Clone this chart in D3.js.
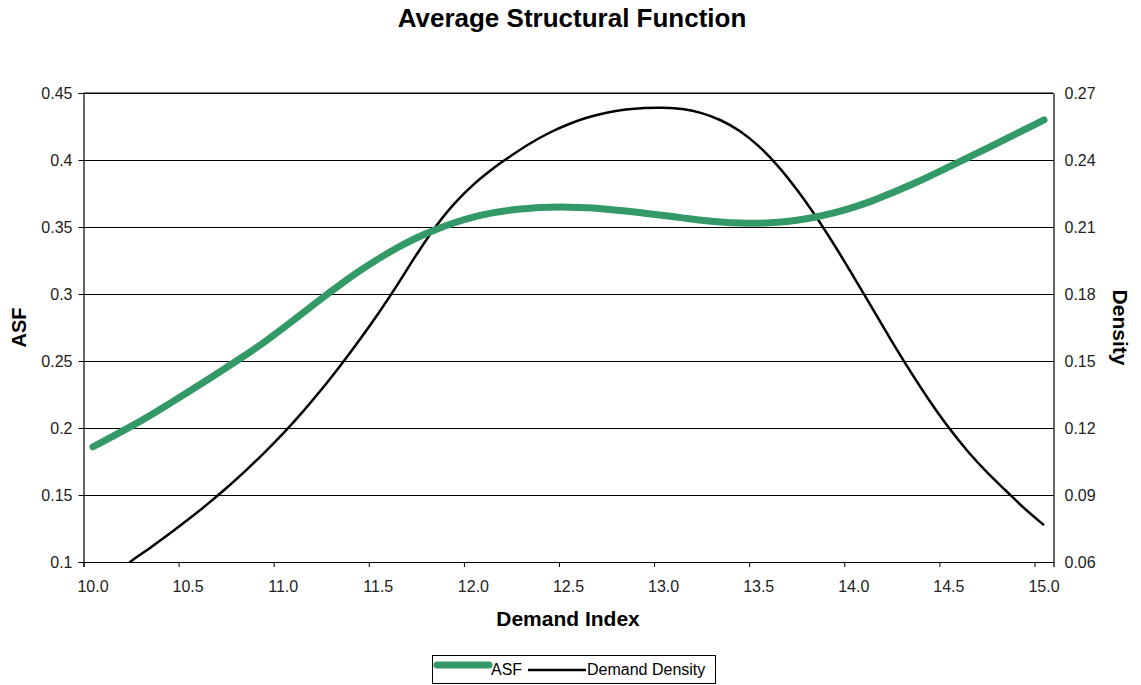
<!DOCTYPE html>
<html><head><meta charset="utf-8">
<script src="https://cdn.jsdelivr.net/npm/d3@7"></script>
<style>body{margin:0;background:#fff}svg{display:block;font-family:"Liberation Sans",Arial,sans-serif}</style>
</head><body>
<svg id="c" width="1141" height="685"></svg>
<script>
const demandIndex = d3.range(51).map(i => +(10 + i * 0.1).toFixed(1));
const asfValues = [
  0.1860, 0.1935, 0.2012, 0.2094, 0.2180, 0.2268, 0.2358, 0.2450, 0.2543, 0.2640,
  0.2746, 0.2855, 0.2965, 0.3070, 0.3170, 0.3262, 0.3345, 0.3418, 0.3480, 0.3532,
  0.3574, 0.3605, 0.3627, 0.3640, 0.3647, 0.3648, 0.3643, 0.3633, 0.3619, 0.3603,
  0.3586, 0.3568, 0.3551, 0.3538, 0.3530, 0.3528, 0.3535, 0.3551, 0.3575, 0.3607,
  0.3648, 0.3697, 0.3754, 0.3815, 0.3880, 0.3948, 0.4017, 0.4087, 0.4157, 0.4228, 0.4299
];
const densityValues = [
  0.0470, 0.0525, 0.0603, 0.0663, 0.0725, 0.0790, 0.0858, 0.0930, 0.1007, 0.1089,
  0.1176, 0.1270, 0.1371, 0.1479, 0.1593, 0.1713, 0.1841, 0.1975, 0.2100, 0.2205,
  0.2290, 0.2360, 0.2420, 0.2475, 0.2522, 0.2560, 0.2590, 0.2612, 0.2626, 0.2633,
  0.2634, 0.2628, 0.2610, 0.2578, 0.2530, 0.2462, 0.2374, 0.2268, 0.2148, 0.2016,
  0.1876, 0.1732, 0.1588, 0.1450, 0.1320, 0.1201, 0.1095, 0.1002, 0.0919, 0.0838, 0.0765
];
const xTickLabels = ["10.0","10.5","11.0","11.5","12.0","12.5","13.0","13.5","14.0","14.5","15.0"];
const leftTicks = [0.1,0.15,0.2,0.25,0.3,0.35,0.4,0.45];
const rightTicks = [0.06,0.09,0.12,0.15,0.18,0.21,0.24,0.27];

const svg = d3.select("#c");
const L = 83.5, R = 1053.5, T = 93, B = 562;
const x = d3.scaleLinear().domain([9.95, 15.05]).range([L, R]);
const yL = d3.scaleLinear().domain([0.1, 0.45]).range([B, T]);
const yR = d3.scaleLinear().domain([0.06, 0.27]).range([B, T]);

svg.append("text").attr("x", 572).attr("y", 27).attr("text-anchor", "middle")
  .attr("font-size", 26).attr("font-weight", "bold").text("Average Structural Function");

// gridlines
svg.append("g").selectAll("line").data(leftTicks).join("line")
  .attr("x1", L).attr("x2", R).attr("y1", d => Math.round(yL(d)) + 0.5).attr("y2", d => Math.round(yL(d)) + 0.5)
  .attr("stroke", "#000").attr("stroke-width", 1);

const gl = svg.append("g").attr("transform", `translate(${L},0)`)
  .call(d3.axisLeft(yL).tickValues(leftTicks).tickFormat(d => String(d)).tickSize(5).tickPadding(6));
const gr = svg.append("g").attr("transform", `translate(${R},0)`)
  .call(d3.axisRight(yR).tickValues(rightTicks).tickFormat(d => d.toFixed(2)).tickSize(0).tickPadding(11));
const xTickVals = xTickLabels.map(s => +s - 0.05);
const gb = svg.append("g").attr("transform", `translate(0,${B})`)
  .call(d3.axisBottom(x).tickValues(xTickVals).tickFormat("").tickSize(5));
[gl, gr, gb].forEach(g => {
  g.selectAll(".domain").attr("stroke", "#000").attr("stroke-width", 1.2);
  g.selectAll("line").attr("stroke", "#000");
  g.selectAll("text").attr("font-size", 16).attr("fill", "#222").attr("font-family", "Liberation Sans, Arial, sans-serif");
});
svg.append("g").selectAll("text").data(xTickLabels).join("text")
  .attr("x", d => x(+d)).attr("y", B + 30).attr("text-anchor", "middle")
  .attr("font-size", 16).attr("fill", "#222").text(d => d);
svg.append("line").attr("x1", L).attr("x2", R).attr("y1", T).attr("y2", T).attr("stroke", "#000");

svg.append("text").attr("transform", `translate(26,${(T+B)/2}) rotate(-90)`).attr("text-anchor", "middle")
  .attr("font-size", 20).attr("font-weight", "bold").text("ASF");
svg.append("text").attr("transform", `translate(1113,${(T+B)/2}) rotate(90)`).attr("text-anchor", "middle")
  .attr("font-size", 21).attr("font-weight", "bold").text("Density");
svg.append("text").attr("x", 568).attr("y", 626).attr("text-anchor", "middle")
  .attr("font-size", 21).attr("font-weight", "bold").text("Demand Index");

svg.append("clipPath").attr("id", "plot").append("rect")
  .attr("x", L).attr("y", T).attr("width", R - L).attr("height", B - T);

const lineD = d3.line().x((d, i) => x(demandIndex[i])).y(d => yR(d)).curve(d3.curveCatmullRom);
svg.append("path").datum(densityValues).attr("d", lineD).attr("clip-path", "url(#plot)")
  .attr("fill", "none").attr("stroke", "#000").attr("stroke-width", 2.5);
const lineA = d3.line().x((d, i) => x(demandIndex[i])).y(d => yL(d)).curve(d3.curveCatmullRom);
svg.append("path").datum(asfValues).attr("d", lineA)
  .attr("fill", "none").attr("stroke", "#339966").attr("stroke-width", 7).attr("stroke-linecap", "round");

// legend
const lg = svg.append("g");
lg.append("rect").attr("x", 432.5).attr("y", 655.5).attr("width", 283).attr("height", 28)
  .attr("fill", "#fff").attr("stroke", "#000").attr("stroke-width", 1);
lg.append("line").attr("x1", 437).attr("x2", 489).attr("y1", 665).attr("y2", 665)
  .attr("stroke", "#339966").attr("stroke-width", 7).attr("stroke-linecap", "round");
lg.append("text").attr("x", 491).attr("y", 675).attr("font-size", 16).text("ASF");
lg.append("line").attr("x1", 528).attr("x2", 586).attr("y1", 670).attr("y2", 670)
  .attr("stroke", "#000").attr("stroke-width", 2.5);
lg.append("text").attr("x", 587).attr("y", 675).attr("font-size", 16).text("Demand Density");
</script>
</body></html>
